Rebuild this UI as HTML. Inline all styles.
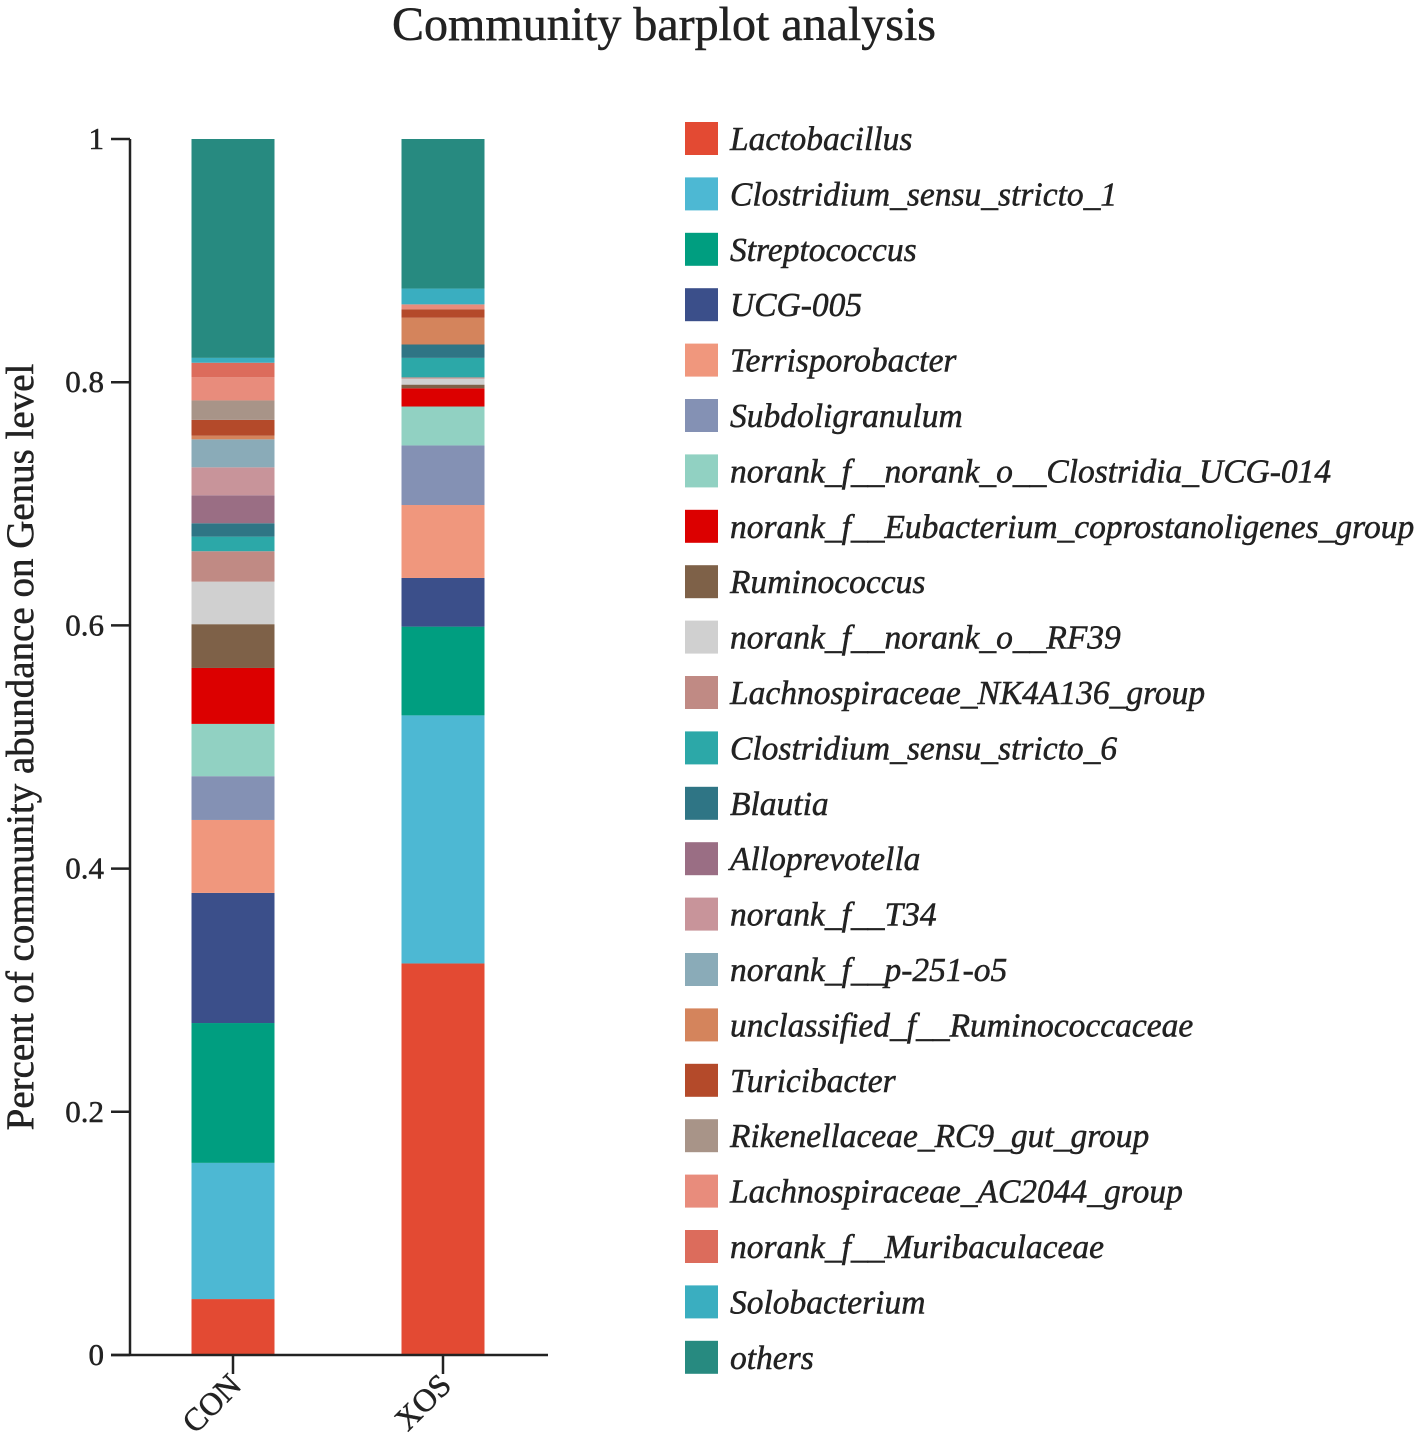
<!DOCTYPE html>
<html><head><meta charset="utf-8">
<style>
body{margin:0;background:#fff;}
svg{display:block;}
svg text{font-family:"Liberation Serif","Times New Roman",serif;fill:#222;stroke:#222;stroke-width:0.5;}
</style></head>
<body>
<svg id="chart" width="1417" height="1441" viewBox="0 0 1417 1441">
<text x="664" y="40" text-anchor="middle" font-size="48">Community barplot analysis</text>
<text transform="translate(33,747) rotate(-90)" text-anchor="middle" font-size="39">Percent of community abundance on Genus level</text>
<g id="bars"></g>
<g id="axes"></g>
<g id="legend"></g>
</svg>
<script>
const categories = ["CON","XOS"];
const taxa = ["Lactobacillus","Clostridium_sensu_stricto_1","Streptococcus","UCG-005","Terrisporobacter","Subdoligranulum","norank_f__norank_o__Clostridia_UCG-014","norank_f__Eubacterium_coprostanoligenes_group","Ruminococcus","norank_f__norank_o__RF39","Lachnospiraceae_NK4A136_group","Clostridium_sensu_stricto_6","Blautia","Alloprevotella","norank_f__T34","norank_f__p-251-o5","unclassified_f__Ruminococcaceae","Turicibacter","Rikenellaceae_RC9_gut_group","Lachnospiraceae_AC2044_group","norank_f__Muribaculaceae","Solobacterium","others"];
const colors = ["#e34a33","#4db8d3","#009e80","#3b4f8a","#f0977d","#8491b4","#91d1c2","#dc0000","#7e6148","#d0d0d0","#c08a84","#2ca8a8","#2f7585","#9a6e84","#c8949a","#8aabb8","#d4845c","#b44a2a","#a89488","#e88c7c","#dc6c5c","#3aaec0","#278a80"];
const conValues = [0.046,0.112,0.115,0.107,0.060,0.036,0.043,0.046,0.036,0.035,0.025,0.012,0.011,0.023,0.023,0.023,0.003,0.013,0.016,0.019,0.012,0.004,0.180];
const xosValues = [0.322,0.204,0.073,0.040,0.060,0.049,0.032,0.015,0.003,0.005,0.001,0.016,0.011,0,0,0,0.022,0.007,0,0.004,0,0.013,0.123];
const yTicks = [0,0.2,0.4,0.6,0.8,1];
const yTickLabels = ["0","0.2","0.4","0.6","0.8","1"];

const NS="http://www.w3.org/2000/svg";
const y0=1355, y1=139, xAxisL=130, xAxisR=548;
const yScale=v=>y0-(y0-y1)*v;
const xCenters=[233,443], barW=83;
function mk(tag,attrs,parent){const e=document.createElementNS(NS,tag);for(const k in attrs)e.setAttribute(k,attrs[k]);parent.appendChild(e);return e;}
const bars=document.getElementById('bars'), axes=document.getElementById('axes'), legend=document.getElementById('legend');
const series=[conValues,xosValues];
series.forEach((vals,ci)=>{
  let cum=0;
  vals.forEach((v,i)=>{
    if(v<=0){return;}
    const top=yScale(cum+v), bot=yScale(cum);
    const r=mk('rect',{x:xCenters[ci]-barW/2,y:top,width:barW,height:bot-top,fill:colors[i]},bars);
    
    
    cum+=v;
  });
});
let l=mk('line',{x1:xAxisL,y1:y0+1,x2:xAxisL,y2:y1,stroke:'#222','stroke-width':2.5},axes);


l=mk('line',{x1:111,y1:y0,x2:xAxisR,y2:y0,stroke:'#222','stroke-width':2.5},axes);


yTicks.forEach((t,i)=>{
  const y=yScale(t);
  const tk=mk('line',{x1:111,y1:y,x2:xAxisL,y2:y,stroke:'#222','stroke-width':2.5},axes);
  
  
  const tx=mk('text',{x:104,y:y+10,'text-anchor':'end','font-size':31},axes);
  tx.textContent=yTickLabels[i];
  
  
});
categories.forEach((c,i)=>{
  const x=xCenters[i];
  const tk=mk('line',{x1:x,y1:y0,x2:x,y2:y0+19,stroke:'#222','stroke-width':2.5},axes);
  
  
  const tx=mk('text',{transform:`translate(${x+10},${y0+32}) rotate(-45)`,'text-anchor':'end','font-size':32},axes);
  tx.textContent=c;
  
  
});
taxa.forEach((t,i)=>{
  const cy=139+i*55.4;
  const g=mk('g',{},legend);
  
  
  mk('rect',{x:685,y:cy-17,width:33,height:33,fill:colors[i]},g);
  const tx=mk('text',{x:730,y:cy+11,'font-size':33.5,'font-style':'italic'},g);
  tx.textContent=t;
});
</script>
</body></html>
